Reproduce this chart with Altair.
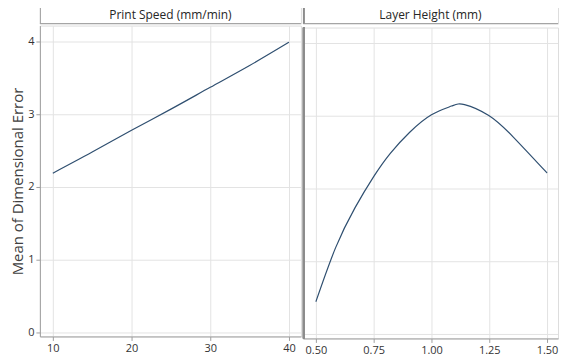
import altair as alt
import pandas as pd

# ---- data ----
speed = [10, 15, 20, 25, 30, 35, 40]
speed_err = [2.19, 2.48, 2.78, 3.07, 3.37, 3.67, 3.99]

layer = [0.50, 0.585, 0.669, 0.75, 0.822, 0.906, 1.00, 1.087, 1.143, 1.248, 1.352, 1.50]
layer_err = [0.45, 1.19, 1.74, 2.17, 2.49, 2.78, 3.02, 3.14, 3.16, 3.01, 2.72, 2.22]

y_ticks = [0, 1, 2, 3, 4]
speed_ticks = [10, 20, 30, 40]
layer_ticks = [0.50, 0.75, 1.00, 1.25, 1.50]

panel_titles = ["Print Speed (mm/min)", "Layer Height (mm)"]
y_title = "Mean of Dimensional Error"

# ---- styling ----
FONT = "Open Sans"
LINE = "#2f4f70"
FRAME = "#a0a0a0"
DIVIDER = "#8c8c8c"
GRID = "#e3e3e3"
TXT = "#333333"

W1, W2, H, HS = 262, 256, 312, 18
ydom = [-0.0548, 4.219]
xdom1 = [8.354, 41.52]
xdom2 = [0.4440, 1.5474]

df1 = pd.DataFrame({"x": speed, "y": speed_err})
df2 = pd.DataFrame({"x": layer, "y": layer_err})
df_yt = pd.DataFrame({"v": y_ticks})


def strip(label, w, left_color, left_width):
    base = alt.Chart(pd.DataFrame({"t": [label]}))
    top = base.mark_rule(color=FRAME, strokeWidth=1).encode(
        x=alt.value(0), x2=alt.value(w), y=alt.value(0.5))
    bottom = base.mark_rule(color=FRAME, strokeWidth=1).encode(
        x=alt.value(0), x2=alt.value(w), y=alt.value(HS))
    left = base.mark_rule(color=left_color, strokeWidth=left_width).encode(
        x=alt.value(left_width / 2), y=alt.value(0), y2=alt.value(HS))
    txt = base.mark_text(font=FONT, fontSize=12, color="#262626").encode(
        text="t:N", x=alt.value(w / 2), y=alt.value(HS / 2 + 0.5))
    return alt.layer(top, bottom, left, txt).properties(width=w, height=HS)


xaxis_common = dict(
    title=None, grid=True, gridColor=GRID, domainColor=FRAME, tickColor=FRAME,
    tickSize=4, labelFont=FONT, labelFontSize=11, labelColor=TXT, labelPadding=2,
)
yscale = alt.Scale(domain=ydom, nice=False, zero=False)

left_plot = alt.Chart(df1).mark_line(color=LINE, strokeWidth=1.2, interpolate="natural").encode(
    x=alt.X("x:Q", scale=alt.Scale(domain=xdom1, nice=False, zero=False),
            axis=alt.Axis(values=speed_ticks, format="d", **xaxis_common)),
    y=alt.Y("y:Q", scale=yscale,
            axis=alt.Axis(values=y_ticks, format="d", title=y_title, grid=True,
                          gridColor=GRID, domainColor=FRAME, tickColor=FRAME,
                          tickSize=4, labelFont=FONT, labelFontSize=11,
                          labelColor=TXT, labelPadding=2, titleFont=FONT,
                          titleFontSize=15, titleFontWeight="normal",
                          titleColor="#404040", titlePadding=2)),
).properties(width=W1, height=H)

right_grid = alt.Chart(df_yt).mark_rule(color=GRID, strokeWidth=1).encode(
    y=alt.Y("v:Q", scale=yscale, axis=None),
    x=alt.value(0), x2=alt.value(W2))
right_line = alt.Chart(df2).mark_line(color=LINE, strokeWidth=1.2, interpolate="natural").encode(
    x=alt.X("x:Q", scale=alt.Scale(domain=xdom2, nice=False, zero=False),
            axis=alt.Axis(values=layer_ticks, format=".2f", **xaxis_common)),
    y=alt.Y("y:Q", scale=yscale, axis=None),
)
divider = alt.Chart(df2).mark_rule(color=DIVIDER, strokeWidth=2).encode(
    x=alt.value(1), y=alt.value(0), y2=alt.value(H))
right_plot = alt.layer(right_grid, right_line, divider).properties(width=W2, height=H)

col1 = alt.vconcat(strip(panel_titles[0], W1, FRAME, 1), left_plot, spacing=0)
col2 = alt.vconcat(strip(panel_titles[1], W2, DIVIDER, 2), right_plot, spacing=0)

chart = alt.hconcat(col1, col2, spacing=0).properties(
    padding={"left": 2, "top": -5, "right": 0, "bottom": 0}
).configure_view(strokeWidth=0, strokeOpacity=0).configure(background="white")

chart.save("out.html", embed_options={"renderer": "svg", "actions": False})
